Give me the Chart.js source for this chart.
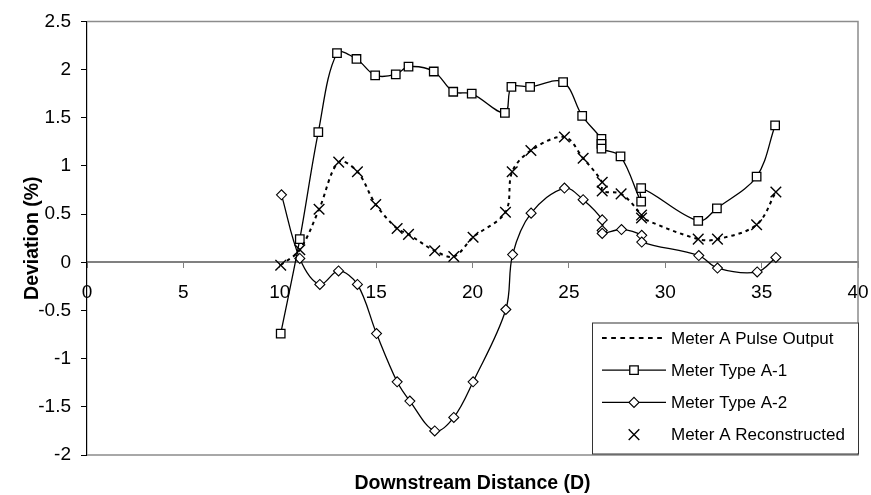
<!DOCTYPE html>
<html>
<head>
<meta charset="utf-8">
<script src="https://cdn.jsdelivr.net/npm/chart.js@4.4.1/dist/chart.umd.min.js"></script>
<style>
  html, body { margin: 0; padding: 0; background: #fff; }
  #wrap { width: 871px; height: 495px; }
</style>
</head>
<body>
<div id="wrap"><canvas id="devChart" width="871" height="495"></canvas></div>
<script>
// --- Data ---
const distPulse = [10.05, 11.04, 12.04, 13.06, 14.03, 14.98, 16.09, 16.68, 18.04, 19.03, 20.03, 21.71, 22.06, 23.03, 24.77, 25.74, 26.73, 26.73, 27.71, 28.77, 28.77, 31.71, 32.71, 34.74, 35.74];
const devPulse = [-0.03, 0.13, 0.55, 1.04, 0.94, 0.60, 0.35, 0.29, 0.12, 0.06, 0.26, 0.52, 0.94, 1.16, 1.30, 1.08, 0.83, 0.74, 0.71, 0.49, 0.46, 0.24, 0.24, 0.39, 0.73];

const distA1 = [10.05, 11.04, 12.0, 12.97, 13.98, 14.95, 16.02, 16.68, 17.99, 19.0, 19.96, 21.68, 22.02, 22.99, 24.7, 25.69, 26.69, 26.69, 26.69, 27.68, 28.75, 28.75, 31.71, 32.68, 34.74, 35.7];
const devA1 = [-0.74, 0.24, 1.35, 2.17, 2.11, 1.94, 1.95, 2.03, 1.98, 1.77, 1.75, 1.55, 1.82, 1.82, 1.87, 1.52, 1.28, 1.23, 1.18, 1.10, 0.63, 0.77, 0.43, 0.56, 0.89, 1.42];

const distA2 = [10.09, 11.04, 12.08, 13.05, 14.03, 15.02, 16.09, 16.75, 18.04, 19.03, 20.03, 21.73, 22.08, 23.04, 24.77, 25.74, 26.73, 26.73, 26.73, 27.73, 28.78, 28.78, 31.74, 32.71, 34.77, 35.74];
const devA2 = [0.70, 0.04, -0.23, -0.09, -0.23, -0.74, -1.24, -1.44, -1.75, -1.61, -1.24, -0.49, 0.08, 0.51, 0.77, 0.65, 0.44, 0.33, 0.30, 0.34, 0.28, 0.21, 0.07, -0.06, -0.10, 0.05];

const distRec = [10.05, 11.04, 12.04, 13.06, 14.03, 14.98, 16.09, 16.68, 18.04, 19.03, 20.03, 21.71, 22.06, 23.03, 24.77, 25.74, 26.73, 26.73, 27.71, 28.77, 28.77, 31.71, 32.71, 34.74, 35.74];
const devRec = [-0.03, 0.13, 0.55, 1.04, 0.94, 0.60, 0.35, 0.29, 0.12, 0.06, 0.26, 0.52, 0.94, 1.16, 1.30, 1.08, 0.83, 0.74, 0.71, 0.49, 0.46, 0.24, 0.24, 0.39, 0.73];

const seriesNames = ['Meter A Pulse Output', 'Meter Type A-1', 'Meter Type A-2', 'Meter A Reconstructed'];
const xTitle = 'Downstream Distance (D)';
const yTitle = 'Deviation (%)';

const toPoints = (xs, ys) => xs.map((x, i) => ({ x: x, y: ys[i] }));

const FONT = "'Liberation Sans', Arial, sans-serif";

// --- Frame around the plot area (gray top/right/bottom, left axis stays black) ---
const framePlugin = {
    id: 'frame',
    beforeDatasetsDraw(chart) {
        const { ctx, chartArea: a } = chart;
        ctx.save();
        ctx.strokeStyle = '#8c8c8c';
        ctx.lineWidth = 1.5;
        ctx.beginPath();
        ctx.moveTo(a.left, a.top);
        ctx.lineTo(a.right, a.top);
        ctx.lineTo(a.right, a.bottom);
        ctx.lineTo(a.left, a.bottom);
        ctx.stroke();
        ctx.restore();
    }
};

// --- Excel-like legend box in the lower right corner ---
const boxLegend = {
    id: 'boxLegend',
    afterDatasetsDraw(chart) {
        const { ctx, chartArea: a } = chart;
        const w = 266, h = 131;
        const left = a.right - w, top = a.bottom - h - 1.5;
        ctx.save();
        ctx.fillStyle = '#fff';
        ctx.fillRect(left, top, w, h);
        ctx.strokeStyle = '#333';
        ctx.lineWidth = 1;
        ctx.strokeRect(left + 0.5, top + 0.5, w, h);

        ctx.font = '17px ' + FONT;
        ctx.textBaseline = 'middle';
        ctx.textAlign = 'left';
        chart.data.datasets.forEach((ds, i) => {
            const y = top + 15.5 + i * 32.2;
            const x0 = left + 10, x1 = left + 74, xm = left + 42;
            ctx.strokeStyle = '#000';
            if (ds.showLine !== false) {
                ctx.lineWidth = ds.borderWidth;
                ctx.setLineDash(ds.legendDash || ds.borderDash || []);
                ctx.beginPath();
                ctx.moveTo(x0, y);
                ctx.lineTo(x1, y);
                ctx.stroke();
                ctx.setLineDash([]);
            }
            if (ds.pointRadius > 0) {
                ctx.fillStyle = ds.pointBackgroundColor;
                ctx.strokeStyle = ds.pointBorderColor;
                ctx.lineWidth = ds.pointBorderWidth;
                Chart.helpers.drawPoint(ctx, {
                    pointStyle: ds.pointStyle,
                    radius: ds.pointRadius,
                    rotation: 0,
                    borderWidth: ds.pointBorderWidth
                }, xm, y);
            }
            ctx.fillStyle = '#000';
            ctx.fillText(ds.label, left + 79, y + 1);
        });
        ctx.restore();
    }
};

new Chart(document.getElementById('devChart'), {
    type: 'scatter',
    data: {
        datasets: [
            {
                label: seriesNames[0],
                data: toPoints(distPulse, devPulse),
                showLine: true,
                borderColor: '#000',
                borderWidth: 2,
                borderDash: [3.5, 4],
                legendDash: [4.7, 4.5],
                tension: 0.35,
                pointRadius: 0,
                pointHoverRadius: 0
            },
            {
                label: seriesNames[1],
                data: toPoints(distA1, devA1),
                showLine: true,
                borderColor: '#000',
                borderWidth: 1.3,
                tension: 0.35,
                pointStyle: 'rect',
                pointRadius: 6,
                pointBackgroundColor: '#fff',
                pointBorderColor: '#000',
                pointBorderWidth: 1.3
            },
            {
                label: seriesNames[2],
                data: toPoints(distA2, devA2),
                showLine: true,
                borderColor: '#000',
                borderWidth: 1.3,
                tension: 0.35,
                pointStyle: 'rectRot',
                pointRadius: 5,
                pointBackgroundColor: '#fff',
                pointBorderColor: '#000',
                pointBorderWidth: 1.1
            },
            {
                label: seriesNames[3],
                data: toPoints(distRec, devRec),
                showLine: false,
                borderColor: '#000',
                borderWidth: 1.4,
                pointStyle: 'crossRot',
                pointRadius: 7.5,
                pointBackgroundColor: '#000',
                pointBorderColor: '#000',
                pointBorderWidth: 1.4
            }
        ]
    },
    options: {
        responsive: false,
        animation: false,
        layout: { padding: { top: 19, right: 13, left: 0, bottom: 0 } },
        plugins: {
            legend: { display: false },
            tooltip: { enabled: false }
        },
        scales: {
            x: {
                type: 'linear',
                position: { y: 0 },
                min: 0,
                max: 40,
                ticks: {
                    stepSize: 5,
                    color: '#000',
                    padding: 14,
                    font: { family: FONT, size: 19 },
                    maxRotation: 0
                },
                grid: {
                    drawOnChartArea: false,
                    tickLength: 5,
                    color: '#808080'
                },
                border: { color: '#808080', width: 2 },
                afterFit(scale) {
                    // the "40" label may overhang the frame, as in the original
                    scale.paddingLeft = 0;
                    scale.paddingRight = 0;
                }
            },
            x2: {
                type: 'linear',
                position: 'bottom',
                min: 0,
                max: 40,
                ticks: { display: false },
                grid: { display: false },
                border: { display: false },
                title: {
                    display: true,
                    text: xTitle,
                    color: '#000',
                    font: { family: FONT, size: 19.5, weight: 'bold' },
                    padding: { top: 0, bottom: 0 }
                },
                afterFit(scale) { scale.height = 40; }
            },
            y: {
                type: 'linear',
                position: 'left',
                min: -2,
                max: 2.5,
                ticks: {
                    stepSize: 0.5,
                    color: '#000',
                    padding: 10,
                    font: { family: FONT, size: 19 },
                    callback: v => String(Math.round(v * 10) / 10 + 0)
                },
                grid: {
                    drawOnChartArea: false,
                    tickLength: 6,
                    color: '#000'
                },
                border: { color: '#000', width: 1.2 },
                title: {
                    display: true,
                    text: yTitle,
                    color: '#000',
                    font: { family: FONT, size: 19.5, weight: 'bold' },
                    padding: { top: 21, bottom: 0 }
                },
                afterFit(scale) { scale.width = 87; }
            }
        }
    },
    plugins: [framePlugin, boxLegend]
});
</script>
</body>
</html>
